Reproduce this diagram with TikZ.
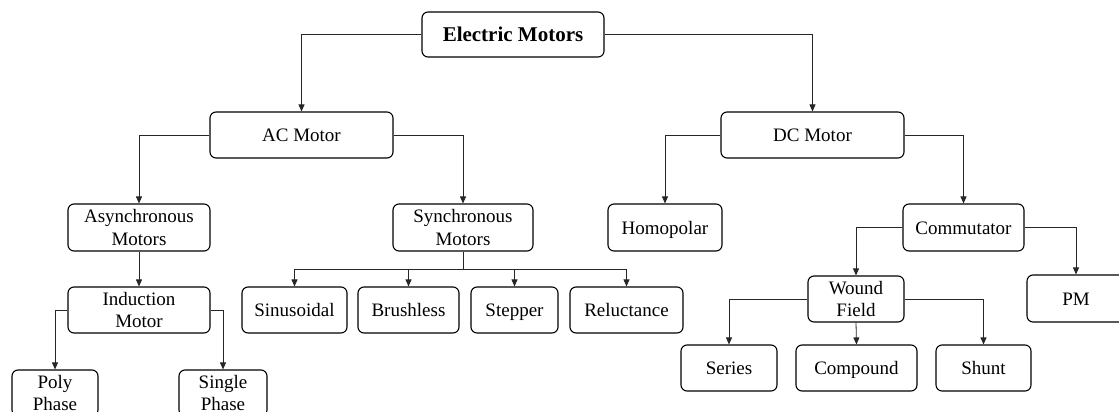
\documentclass[tikz,border=0pt]{standalone}
\usepackage{fontspec}
\setmainfont{Liberation Serif}
\usetikzlibrary{arrows.meta}
\begin{document}
\begin{tikzpicture}[x=1pt,y=-1pt,
  box/.style={draw=black,line width=1.1pt,rounded corners=6pt,align=center,inner sep=1pt,
    font=\fontsize{19}{22.5}\selectfont},
  one/.style={text height=13.2pt,text depth=0pt},
  conn/.style={draw=black!85,line width=0.8pt,-{Triangle[length=7pt,width=6pt]}},
  plain/.style={draw=black!85,line width=0.8pt}]
\useasboundingbox (0,0) rectangle (1119,412);
\node[box,one,minimum width=182pt,minimum height=45pt,font=\fontsize{21}{24}\selectfont\bfseries] (em) at (513,34.5) {Electric Motors};
\node[box,one,minimum width=183pt,minimum height=46pt] (ac) at (301.5,135) {AC Motor};
\node[box,one,minimum width=183pt,minimum height=46pt] (dc) at (812.5,135) {DC Motor};
\node[box,minimum width=142pt,minimum height=47pt] (async) at (139,227.5) {Asynchronous\\Motors};
\node[box,minimum width=140pt,minimum height=47pt] (sync) at (463,227.5) {Synchronous\\Motors};
\node[box,one,minimum width=114pt,minimum height=47pt] (homo) at (665,227.5) {Homopolar};
\node[box,one,minimum width=121pt,minimum height=47pt] (comm) at (963.5,227.5) {Commutator};
\node[box,minimum width=142pt,minimum height=46pt] (ind) at (139,310) {Induction\\Motor};
\node[box,one,minimum width=105pt,minimum height=46pt] (sin) at (294.5,310) {Sinusoidal};
\node[box,one,minimum width=101pt,minimum height=46pt] (bru) at (408.5,310) {Brushless};
\node[box,one,minimum width=87pt,minimum height=46pt] (stp) at (514.5,310) {Stepper};
\node[box,one,minimum width=113pt,minimum height=46pt] (rel) at (626.5,310) {Reluctance};
\node[box,minimum width=96pt,minimum height=46pt] (wound) at (856,299) {Wound\\Field};
\node[box,one,minimum width=98pt,minimum height=47pt] (pm) at (1076,298.5) {PM};
\node[box,one,minimum width=96pt,minimum height=46pt] (series) at (729,368) {Series};
\node[box,one,minimum width=121pt,minimum height=46pt] (compound) at (856.5,368) {Compound};
\node[box,one,minimum width=95pt,minimum height=46pt] (shunt) at (983.5,368) {Shunt};
\node[box,minimum width=86pt,minimum height=46pt] (poly) at (55,393) {Poly\\Phase};
\node[box,minimum width=88pt,minimum height=46pt] (single) at (223,393) {Single\\Phase};
\coordinate (bus) at (463,269);
\draw[conn] (em.west) -| (ac.north);
\draw[conn] (em.east) -| (dc.north);
\draw[conn] (ac.west) -| (async.north);
\draw[conn] (ac.east) -| (sync.north);
\draw[conn] (dc.west) -| (homo.north);
\draw[conn] (dc.east) -| (comm.north);
\draw[conn] (async.south) -- (ind.north);
\draw[conn] (ind.west) -| (poly.north);
\draw[conn] (ind.east) -| (single.north);
\draw[plain] (sync.south) -- (bus);
\draw[conn] (bus) -| (sin.north);
\draw[conn] (bus) -| (bru.north);
\draw[conn] (bus) -| (stp.north);
\draw[conn] (bus) -| (rel.north);
\draw[conn] (comm.west) -| (wound.north);
\draw[conn] (comm.east) -| (pm.north);
\draw[conn] (wound.west) -| (series.north);
\draw[conn] (wound.south) -- (compound.north);
\draw[conn] (wound.east) -| (shunt.north);
\end{tikzpicture}
\end{document}
